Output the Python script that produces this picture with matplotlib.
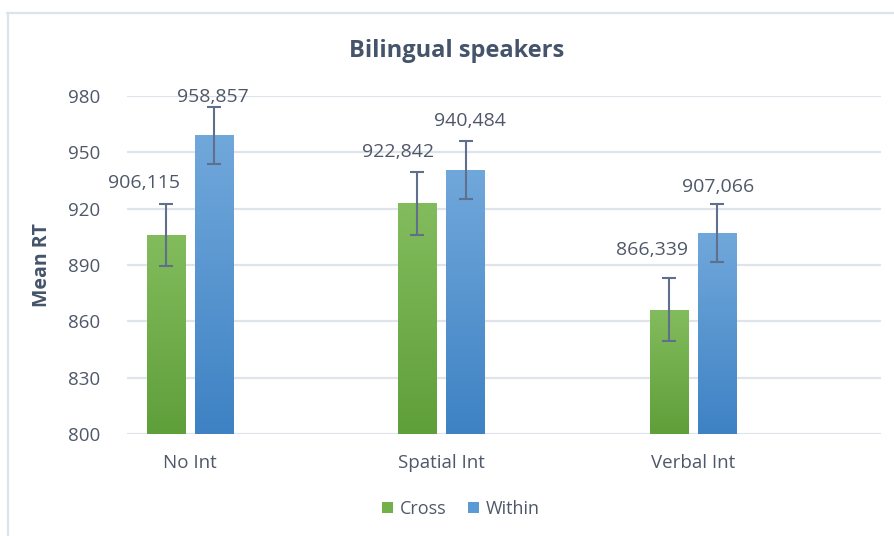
import numpy as np
import matplotlib
matplotlib.use('Agg')
import matplotlib.pyplot as plt
from matplotlib.colors import LinearSegmentedColormap
from matplotlib.lines import Line2D
from matplotlib.patches import Patch

plt.rcParams['font.family'] = ['Open Sans', 'DejaVu Sans']

# ── Data ──────────────────────────────────────────────────────────────────
conditions = ["No Int", "Spatial Int", "Verbal Int"]
cross_rt   = [906.115, 922.842, 866.339]
within_rt  = [958.857, 940.484, 907.066]
cross_err  = [16.5, 16.8, 16.7]
within_err = [15.2, 15.2, 15.3]

# label offsets (points) from the top of each bar
cross_lbl_off  = [(-16, 37), (-14, 37), (-12, 43)]
within_lbl_off = [(-1, 28), (3, 35), (1, 33)]

TXT   = "#4f5869"
TITLE = "#44546a"
GRID  = "#dfe4ec"
ERR   = "#5f6f8c"
cmap_green = LinearSegmentedColormap.from_list("g", ["#5f9f3a", "#83bc5d"])
cmap_blue  = LinearSegmentedColormap.from_list("b", ["#3e82c4", "#71a8db"])

fig = plt.figure(figsize=(8.94, 5.36), dpi=100)
ax = fig.add_axes([127/894, 1 - 434.3/536, 754/894, 338.6/536])

x = np.arange(len(conditions))
w = 0.154
off = 0.0958
grad = np.linspace(1, 0, 256).reshape(-1, 1)

def gradient_bars(xpos, vals, cmap):
    bars = ax.bar(xpos, vals, width=w, bottom=0, color="none", zorder=2)
    for b, v in zip(bars, vals):
        im = ax.imshow(grad, extent=[b.get_x(), b.get_x() + w, 800, v],
                       aspect="auto", cmap=cmap, zorder=2, origin="upper")
        im.set_clip_path(b)
    return bars

gradient_bars(x - off, cross_rt, cmap_green)
gradient_bars(x + off, within_rt, cmap_blue)

ax.errorbar(x - off, cross_rt, yerr=cross_err, fmt="none", ecolor=ERR,
            elinewidth=1.5, capsize=5, capthick=1.5, zorder=3)
ax.errorbar(x + off, within_rt, yerr=within_err, fmt="none", ecolor=ERR,
            elinewidth=1.5, capsize=5, capthick=1.5, zorder=3)

for xs, vals, offs in [(x - off, cross_rt, cross_lbl_off),
                       (x + off, within_rt, within_lbl_off)]:
    for xi, v, (dx, dy) in zip(xs, vals, offs):
        ax.annotate(f"{v:.3f}".replace(".", ","), xy=(xi, v),
                    xytext=(dx, dy), textcoords="offset points",
                    ha="center", va="center", fontsize=14, color=TXT,
                    zorder=4)

ax.set_xlim(-0.2505, 2.7475)
ax.set_ylim(800, 980)
ax.set_yticks(np.arange(800, 981, 30))
ax.set_xticks(x)
ax.set_xticklabels(conditions)
ax.tick_params(axis="y", length=0, labelsize=13.5, labelcolor=TXT, pad=19)
ax.tick_params(axis="x", length=0, labelsize=13.5, labelcolor=TXT, pad=14)
ax.grid(axis="y", color=GRID, linewidth=1.6, zorder=0)
ax.set_axisbelow(True)
for s in ax.spines.values():
    s.set_visible(False)

ax.set_ylabel("Mean RT", fontsize=14, fontweight="bold", color=TITLE)
ax.yaxis.set_label_coords(-0.10, 0.5)

fig.text(457/894, 1 - 51/536, "Bilingual speakers", ha="center", va="center",
         fontsize=17, fontweight="bold", color=TITLE)

handles = [Patch(facecolor="#72b04a", label="Cross"),
           Patch(facecolor="#5b9bd5", label="Within")]
fig.legend(handles=handles, loc="center", bbox_to_anchor=(461/894, 1 - 509/536),
           ncol=2, frameon=False, fontsize=13, labelcolor=TXT,
           handlelength=0.6, handleheight=0.6, handletextpad=0.4,
           columnspacing=1.2)

# chart frame (top and left edges)
fig.add_artist(Line2D([7/894, 1], [1 - 13/536] * 2, color="#dde3eb",
                      linewidth=1.6, transform=fig.transFigure))
fig.add_artist(Line2D([8/894] * 2, [0, 1 - 13/536], color="#dde3eb",
                      linewidth=1.6, transform=fig.transFigure))

fig.savefig("out.png", dpi=100, facecolor="white")
